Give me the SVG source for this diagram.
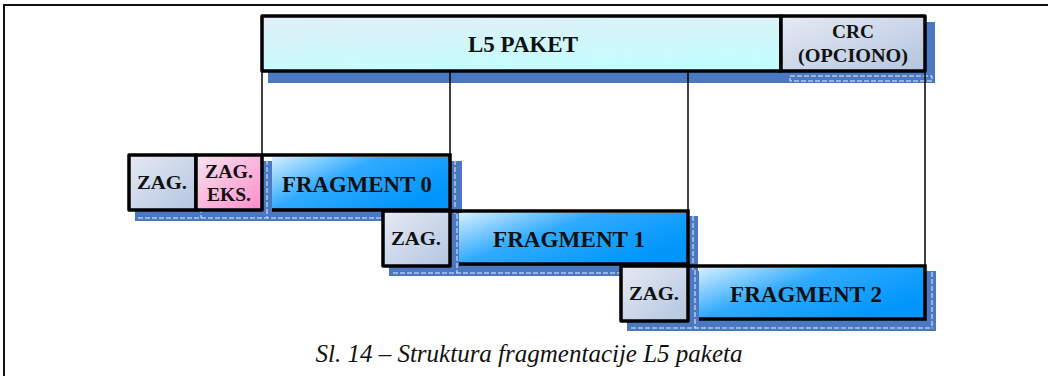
<svg xmlns="http://www.w3.org/2000/svg" width="1048" height="376" viewBox="0 0 1048 376">
  <defs>
    <linearGradient id="gPaket" x1="0" y1="0" x2="0.3" y2="1">
      <stop offset="0" stop-color="#e2eef7"/>
      <stop offset="1" stop-color="#c4fdfe"/>
    </linearGradient>
    <linearGradient id="gHdr" x1="0" y1="0" x2="1" y2="1">
      <stop offset="0" stop-color="#e6eaf3"/>
      <stop offset="1" stop-color="#b3c5e0"/>
    </linearGradient>
    <linearGradient id="gExt" x1="0" y1="0" x2="1" y2="1">
      <stop offset="0" stop-color="#f6e4ee"/>
      <stop offset="1" stop-color="#ff8ccb"/>
    </linearGradient>
    <linearGradient id="gFrag" x1="0" y1="0" x2="1" y2="0.6">
      <stop offset="0" stop-color="#d4eeff"/>
      <stop offset="0.45" stop-color="#30aaff"/>
      <stop offset="1" stop-color="#0096fb"/>
    </linearGradient>
    <style>
      .frame { stroke: #111; stroke-width: 2; fill: none; }
      .shadow { fill: #4a79c1; }
      .sdash { fill: none; stroke: #e6eefa; stroke-width: 1; stroke-dasharray: 5 2; }
      .box { stroke: #000; stroke-width: 3.5; stroke-linejoin: round; }
      .edge { stroke: #000; stroke-width: 3.5; fill: none; }
      .lead { stroke: #000; stroke-width: 1.5; fill: none; }
      .lbl { font-family: "Liberation Serif", "Times New Roman", serif; font-weight: bold; fill: #111; text-anchor: middle; }
      .big { font-size: 24px; }
      .small { font-size: 19px; }
      .cap { font-family: "Liberation Serif", "Times New Roman", serif; font-style: italic; font-size: 25px; fill: #111; text-anchor: middle; }
    </style>
  </defs>

  <!-- page frame -->
  <path class="frame" d="M4,376 V5 H1048"/>

  <!-- drop shadows -->
  <g id="shadows">
    <rect class="shadow" x="268" y="22" width="667" height="61"/>
    <rect class="sdash" x="790" y="76" width="142" height="5"/>
    <rect class="shadow" x="135" y="161" width="327" height="60"/>
    <path class="sdash" d="M138,218 H458 M201,208 V218 M267,160 V218 M455,160 V218"/>
    <rect class="shadow" x="389" y="216" width="309" height="60"/>
    <path class="sdash" d="M393,273 H695 M457,214 V273 M693,216 V273"/>
    <rect class="shadow" x="627" y="271" width="309" height="60"/>
    <path class="sdash" d="M631,328 H933 M695,270 V328 M932,272 V328"/>
  </g>

  <!-- leader lines from packet to fragments -->
  <g id="connectors">
    <line class="lead" x1="262" y1="71" x2="262" y2="155"/>
    <line class="lead" x1="450" y1="71" x2="450" y2="155"/>
    <line class="lead" x1="688" y1="71" x2="688" y2="211"/>
    <line class="lead" x1="925" y1="71" x2="925" y2="266"/>
  </g>

  <g id="paket">
    <rect class="box" x="262" y="16" width="519" height="55" fill="url(#gPaket)"/>
    <text class="lbl big" x="523" y="52" textLength="110" lengthAdjust="spacingAndGlyphs">L5  PAKET</text>
  </g>
  <g id="crc">
    <rect class="box" x="781" y="16" width="144" height="55" fill="url(#gHdr)"/>
    <text class="lbl small" x="853" y="38" textLength="42" lengthAdjust="spacingAndGlyphs">CRC</text>
    <text class="lbl small" x="853" y="62" textLength="110" lengthAdjust="spacingAndGlyphs">(OPCIONO)</text>
  </g>

  <!-- fragment 0 row -->
  <g id="zag0">
    <rect class="box" x="129" y="155" width="67" height="55" fill="url(#gHdr)"/>
    <text class="lbl small" x="162" y="189" textLength="50" lengthAdjust="spacingAndGlyphs">ZAG.</text>
  </g>
  <g id="zageks">
    <rect class="box" x="196" y="155" width="66" height="55" fill="url(#gExt)"/>
    <text class="lbl small" x="229" y="178" textLength="48" lengthAdjust="spacingAndGlyphs">ZAG.</text>
    <text class="lbl small" x="229" y="201" textLength="44" lengthAdjust="spacingAndGlyphs">EKS.</text>
  </g>
  <g id="frag0">
    <rect x="272" y="157" width="177" height="51" fill="url(#gFrag)"/>
    <path class="edge" d="M262,155 H450 V210 H272"/>
    <text class="lbl big" x="357" y="192" textLength="150" lengthAdjust="spacingAndGlyphs">FRAGMENT 0</text>
  </g>

  <!-- fragment 1 row -->
  <g id="zag1">
    <rect class="box" x="383" y="211" width="67" height="55" fill="url(#gHdr)"/>
    <text class="lbl small" x="416" y="245" textLength="50" lengthAdjust="spacingAndGlyphs">ZAG.</text>
  </g>
  <g id="frag1">
    <rect x="459" y="213" width="228" height="50" fill="url(#gFrag)"/>
    <path class="edge" d="M450,211 H688 V264 H459"/>
    <text class="lbl big" x="569" y="247" textLength="152" lengthAdjust="spacingAndGlyphs">FRAGMENT 1</text>
  </g>

  <!-- fragment 2 row -->
  <g id="zag2">
    <rect class="box" x="621" y="266" width="67" height="55" fill="url(#gHdr)"/>
    <text class="lbl small" x="654" y="300" textLength="50" lengthAdjust="spacingAndGlyphs">ZAG.</text>
  </g>
  <g id="frag2">
    <rect x="699" y="268" width="225" height="50" fill="url(#gFrag)"/>
    <path class="edge" d="M688,266 H925 V319 H699"/>
    <text class="lbl big" x="806" y="302" textLength="152" lengthAdjust="spacingAndGlyphs">FRAGMENT 2</text>
  </g>

  <text class="cap" x="529" y="362">Sl. 14 – Struktura fragmentacije L5 paketa</text>
</svg>
